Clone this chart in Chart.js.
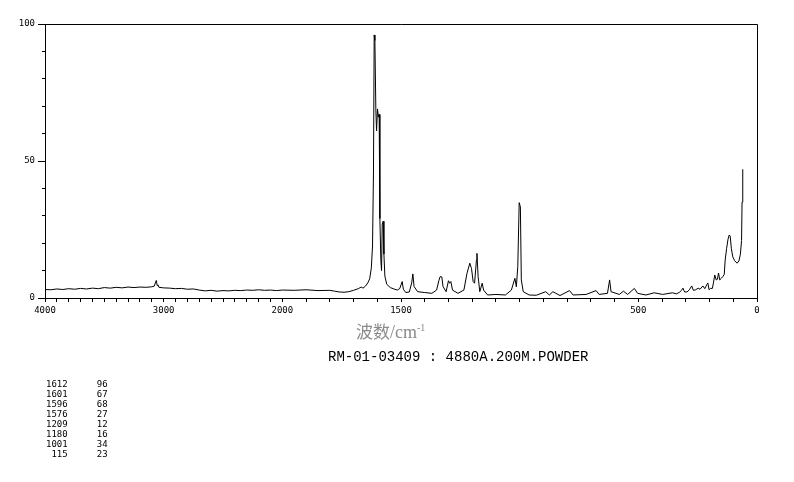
<!DOCTYPE html>
<html>
<head>
<meta charset="utf-8">
<script src="https://cdn.jsdelivr.net/npm/chart.js@4/dist/chart.umd.min.js"></script>
<style>
    body { margin: 0; background: #fff; }
    #wrap { position: relative; width: 794px; height: 482px; }
    #spectrum { position: absolute; left: 0; top: 0; }
    .axis-title { position: absolute; left: 356px; top: 318px; color: #8a8a8a; font-size: 17px; white-space: nowrap; }
    .axis-title .cjk { font-family: "Noto Sans CJK SC"; }
    .axis-title .unit { font-family: "Liberation Serif"; font-size: 18px; }
    .axis-title sup { font-size: 10px; }
    .sample { position: absolute; left: 328px; top: 349px; font-family: "Liberation Mono"; font-size: 14px; white-space: nowrap; }
    .peaks { position: absolute; left: 46px; top: 379px; font-family: "DejaVu Sans Mono"; font-size: 9px; line-height: 10px; }
    .peaks td { padding: 0; text-align: right; }
    .peaks td.v { width: 40px; }
</style>
</head>
<body>
<div id="wrap">
    <canvas id="spectrum" width="794" height="482"></canvas>
    <div class="axis-title"><span class="cjk">波数</span><span class="unit">/cm<sup>-1</sup></span></div>
    <div class="sample">RM-01-03409 : 4880A.200M.POWDER</div>
    <table class="peaks" id="peaks" cellspacing="0"></table>
</div>
<script>
// ====== DATA ======
const waveNumbers = [
    4000, 3950, 3900, 3850, 3800, 3750, 3700, 3650, 3600, 3550, 3500, 3450, 3400, 3350, 3300, 3250,
    3200, 3150, 3100, 3080, 3070, 3062, 3055, 3048, 3040, 3000, 2950, 2900, 2850, 2800, 2750, 2700,
    2650, 2600, 2550, 2500, 2450, 2400, 2350, 2300, 2250, 2200, 2150, 2100, 2050, 2000,
    1950, 1900, 1850, 1800, 1780, 1760, 1740, 1720, 1700, 1680, 1668, 1660, 1650, 1640, 1632, 1625,
    1620, 1616, 1613, 1610, 1606, 1603, 1599, 1595, 1592, 1589, 1585, 1582, 1579, 1575, 1572, 1568,
    1560, 1545, 1530, 1515, 1505, 1495, 1490, 1480, 1465, 1455, 1450, 1445, 1430, 1400, 1370, 1350,
    1340, 1335, 1328, 1323, 1310, 1300, 1295, 1290, 1283, 1260, 1235, 1222, 1210, 1203, 1196, 1190,
    1182, 1180, 1175, 1168, 1158, 1152, 1135, 1100, 1060, 1035, 1020, 1014, 1008, 1002, 997, 993,
    985, 960, 930, 890, 875, 860, 830, 790, 775, 720, 678, 665, 630, 621, 615, 580,
    563, 545, 517, 503, 468, 433, 398, 356, 340, 328, 318, 312, 305, 295, 285, 275,
    268, 258, 248, 240, 228, 220, 212, 207, 202, 196, 188, 183, 178, 172, 167, 162,
    157, 150, 144, 138, 134, 128, 122, 117, 113, 108, 102, 94, 84, 76, 70, 65,
    63, 60
];
const intensity = [
    3.1, 3.0, 3.3, 3.1, 3.4, 3.2, 3.5, 3.3, 3.6, 3.4, 3.8, 3.6, 3.9, 3.7, 4.0, 3.8,
    4.0, 3.9, 4.1, 4.3, 5.5, 6.4, 4.6, 4.8, 3.9, 3.7, 3.6, 3.4, 3.5, 3.2, 3.3, 2.9,
    2.6, 2.8, 2.5, 2.7, 2.6, 2.8, 2.7, 2.9, 2.8, 3.0, 2.8, 2.9, 2.7, 2.9,
    2.8, 3.0, 2.7, 2.8, 2.5, 2.2, 2.1, 2.3, 2.8, 3.4, 4.0, 3.6, 4.3, 5.5, 7.0, 11,
    19, 46, 96, 94, 69, 61, 69, 66, 67, 29, 14, 10, 27, 28, 16, 8,
    5, 3.8, 3.3, 2.9, 3.5, 6.0, 3.2, 2.0, 2.2, 5.5, 8.8, 4.2, 2.3, 2.0, 1.7, 2.9,
    6.5, 7.8, 7.7, 4.2, 2.3, 6.3, 5.4, 6.0, 2.9, 1.7, 2.9, 9.0, 12.7, 10.8, 6.0, 5.4,
    14, 16.3, 7.8, 2.3, 5.4, 2.9, 1.1, 1.3, 1.1, 2.9, 7.2, 4.1, 11.4, 34.8, 33.3, 6.6,
    2.3, 1.1, 1.0, 2.3, 1.1, 2.3, 0.9, 2.7, 1.1, 1.3, 2.7, 1.3, 1.7, 6.6, 2.3, 1.3,
    2.5, 1.3, 3.5, 1.7, 1.1, 1.9, 1.3, 1.9, 1.5, 2.0, 2.8, 3.6, 2.2, 2.2, 3.0, 4.4,
    2.8, 3.0, 3.6, 3.2, 4.4, 3.4, 4.8, 5.5, 3.0, 3.5, 3.5, 5.8, 8.4, 6.6, 6.8, 9.1,
    6.6, 7.2, 7.8, 8.6, 13.9, 18.1, 21.5, 23, 22.6, 18, 15, 13.6, 12.7, 13.5, 16, 21,
    35, 47
];
const xTickLabels = [4000, 3000, 2000, 1500, 500, 0];
const yTickLabels = [0, 50, 100];
const peakWaveNumbers = [1612, 1601, 1596, 1576, 1209, 1180, 1001, 115];
const peakValues = [96, 67, 68, 27, 12, 16, 34, 23];

// ====== AXIS WARP (4000-2000 drawn at half scale) ======
function warp(wn) { return wn <= 2000 ? wn : 2000 + (wn - 2000) / 2; }
function unwarp(u) { return u <= 2000 ? u : 2000 + (u - 2000) * 2; }

const points = waveNumbers.map((wn, i) => ({ x: warp(wn), y: intensity[i] }));

// ====== PEAK TABLE ======
const table = document.getElementById('peaks');
peakWaveNumbers.forEach((wn, i) => {
    let row = table.insertRow();
    row.insertCell().textContent = wn;
    let v = row.insertCell();
    v.className = 'v';
    v.textContent = peakValues[i];
});

// ====== FRAME (top + right border) and longer major y ticks ======
const framePlugin = {
    id: 'frame',
    afterDraw(chart) {
        const a = chart.chartArea, c = chart.ctx;
        const y = chart.scales.y;
        c.save();
        c.strokeStyle = '#000';
        c.lineWidth = 1;
        c.beginPath();
        c.moveTo(a.left, a.top + 0.5);
        c.lineTo(a.right + 0.5, a.top + 0.5);
        c.lineTo(a.right + 0.5, a.bottom);
        yTickLabels.forEach(v => {
            let py = Math.round(y.getPixelForValue(v)) + 0.5;
            c.moveTo(a.left - 7, py);
            c.lineTo(a.left, py);
        });
        c.stroke();
        c.restore();
    }
};

const tickFont = { family: 'DejaVu Sans Mono', size: 9 };

new Chart(document.getElementById('spectrum').getContext('2d'), {
    type: 'line',
    data: {
        datasets: [{
            data: points,
            borderColor: '#000',
            borderWidth: 1,
            pointRadius: 0,
            tension: 0,
            fill: false
        }]
    },
    options: {
        responsive: false,
        animation: false,
        layout: { padding: { top: 24, right: 37, bottom: 0, left: 0 } },
        plugins: { legend: { display: false }, tooltip: { enabled: false } },
        scales: {
            x: {
                type: 'linear',
                min: 0,
                max: 3000,
                reverse: true,
                afterBuildTicks(scale) {
                    let ticks = [];
                    for (let wn = 4000; wn >= 0; wn -= 100) ticks.push({ value: warp(wn) });
                    scale.ticks = ticks;
                },
                afterFit(scale) { scale.height = 184; },
                ticks: {
                    autoSkip: false,
                    maxRotation: 0,
                    padding: 3,
                    color: '#000',
                    font: tickFont,
                    callback: v => {
                        let wn = Math.round(unwarp(v));
                        return xTickLabels.includes(wn) ? String(wn) : '';
                    }
                },
                grid: { drawOnChartArea: false, tickLength: 4, color: '#000' },
                border: { color: '#000', width: 1 }
            },
            y: {
                min: 0,
                max: 100,
                afterFit(scale) { scale.width = 45; },
                ticks: {
                    stepSize: 10,
                    padding: 7,
                    color: '#000',
                    font: tickFont,
                    callback: v => yTickLabels.includes(v) ? String(v) : ''
                },
                grid: { drawOnChartArea: false, tickLength: 3, color: '#000' },
                border: { color: '#000', width: 1 }
            }
        }
    },
    plugins: [framePlugin]
});
</script>
</body>
</html>
